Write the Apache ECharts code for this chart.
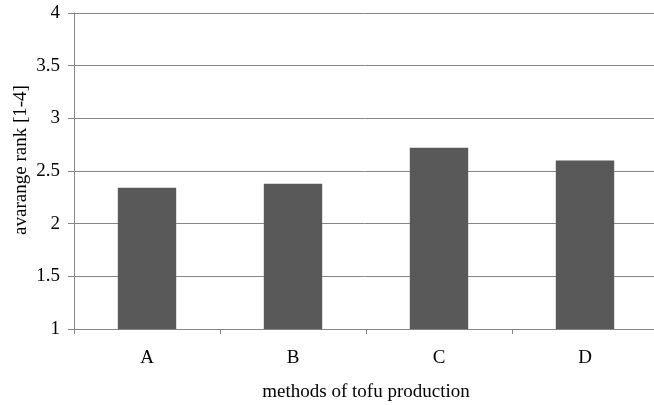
<!DOCTYPE html>
<html><head><meta charset="utf-8">
<script src="https://cdn.jsdelivr.net/npm/echarts@6/dist/echarts.min.js"></script>
<style>html,body{margin:0;padding:0;background:#fff}#c{width:654px;height:405px}</style>
</head><body><div id="c"></div>
<script>
const categories = ['A', 'B', 'C', 'D'];
const values = [2.34, 2.38, 2.72, 2.60];
const yTicks = [1, 1.5, 2, 2.5, 3, 3.5, 4];
const font = 'Liberation Serif, Times New Roman, serif';
const chart = echarts.init(document.getElementById('c'));
chart.setOption({
  animation: false,
  grid: {left: 74, right: -4, top: 13, bottom: 76, outerBoundsMode: 'none'},
  xAxis: {
    type: 'category', data: categories,
    name: 'methods of tofu production', nameLocation: 'middle', nameGap: 54,
    nameTextStyle: {fontFamily: font, fontSize: 19, color: '#000'},
    axisLine: {lineStyle: {color: '#868686', width: 1}},
    axisTick: {show: true, length: 5, lineStyle: {color: '#868686'}},
    axisLabel: {fontFamily: font, fontSize: 19, color: '#000', margin: 20}
  },
  yAxis: {
    type: 'value', min: yTicks[0], max: yTicks[yTicks.length - 1], interval: 0.5,
    name: 'avarange rank [1-4]', nameLocation: 'middle', nameGap: 43, nameMoveOverlap: false,
    nameTextStyle: {fontFamily: font, fontSize: 19, color: '#000', padding: [0, 0, 0, 22]},
    axisLine: {show: true, lineStyle: {color: '#868686', width: 1}},
    axisTick: {show: true, length: 6, lineStyle: {color: '#868686'}},
    axisLabel: {fontFamily: font, fontSize: 19, color: '#000', margin: 14},
    splitLine: {lineStyle: {color: '#868686', width: 1}}
  },
  series: [{
    type: 'bar', data: values, barWidth: '40%',
    itemStyle: {color: '#595959'}
  }]
});
</script></body></html>
